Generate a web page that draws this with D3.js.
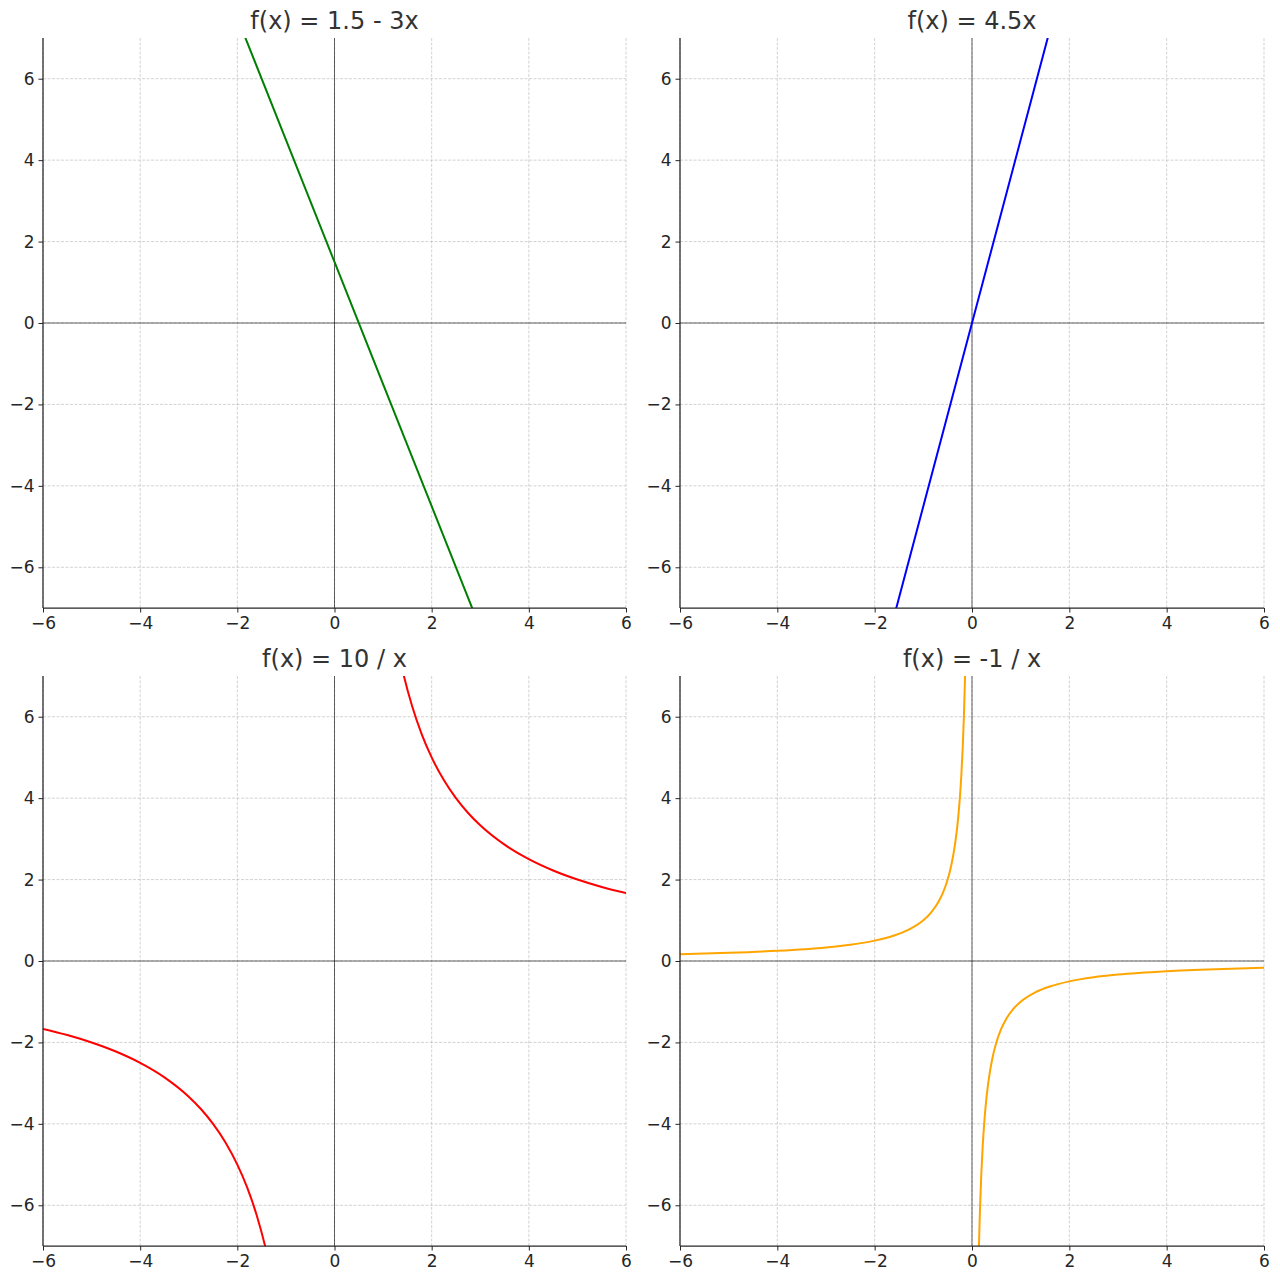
<!DOCTYPE html>
<html><head><meta charset="utf-8">
<script src="https://cdn.jsdelivr.net/npm/d3@7"></script>
<style>body{margin:0;background:#fff}svg{display:block}</style>
</head><body>
<script>
// ---- data ----
const titles = ["f(x) = 1.5 - 3x", "f(x) = 4.5x", "f(x) = 10 / x", "f(x) = -1 / x"];
const colors = ["green", "blue", "red", "orange"];
const xTicks = [-6, -4, -2, 0, 2, 4, 6];
const yTicks = [-6, -4, -2, 0, 2, 4, 6];
// curve samples (x, y); each inner array is a continuous branch
const line1 = [[[-6, 19.5], [-2, 7.5], [0, 1.5], [2, -4.5], [3, -7.5], [6, -16.5]]];
const line2 = [[[-6, -27], [-1.5556, -7], [0, 0], [1.5556, 7], [6, 27]]];
const hyp10 = [
  [[-6, -1.667], [-5.5, -1.818], [-5, -2], [-4.5, -2.222], [-4, -2.5], [-3.5, -2.857], [-3, -3.333], [-2.75, -3.636], [-2.5, -4], [-2.25, -4.444], [-2, -5], [-1.8, -5.556], [-1.6, -6.25], [-1.4, -7.143], [-1.2, -8.333]],
  [[1.2, 8.333], [1.4, 7.143], [1.6, 6.25], [1.8, 5.556], [2, 5], [2.25, 4.444], [2.5, 4], [2.75, 3.636], [3, 3.333], [3.5, 2.857], [4, 2.5], [4.5, 2.222], [5, 2], [5.5, 1.818], [6, 1.667]]
];
const hypNeg1 = [
  [[-6, 0.1667], [-5, 0.2], [-4, 0.25], [-3, 0.3333], [-2.5, 0.4], [-2, 0.5], [-1.6, 0.625], [-1.3, 0.769], [-1, 1], [-0.85, 1.176], [-0.7, 1.429], [-0.6, 1.667], [-0.5, 2], [-0.42, 2.381], [-0.35, 2.857], [-0.3, 3.333], [-0.26, 3.846], [-0.22, 4.545], [-0.19, 5.263], [-0.165, 6.061], [-0.145, 6.897], [-0.125, 8]],
  [[0.125, -8], [0.145, -6.897], [0.165, -6.061], [0.19, -5.263], [0.22, -4.545], [0.26, -3.846], [0.3, -3.333], [0.35, -2.857], [0.42, -2.381], [0.5, -2], [0.6, -1.667], [0.7, -1.429], [0.85, -1.176], [1, -1], [1.3, -0.769], [1.6, -0.625], [2, -0.5], [2.5, -0.4], [3, -0.3333], [4, -0.25], [5, -0.2], [6, -0.1667]]
];
const series = [line1, line2, hyp10, hypNeg1];

// ---- layout ----
const W = 1280, H = 1280;
const panels = [
  {x0: 43, x1: 626, y0: 38, y1: 608},
  {x0: 680, x1: 1264, y0: 38, y1: 608},
  {x0: 43, x1: 626, y0: 676, y1: 1246},
  {x0: 680, x1: 1264, y0: 676, y1: 1246}
];
const svg = d3.select("body").append("svg").attr("width", W).attr("height", H)
  .style("font-family", "DejaVu Sans, sans-serif");

panels.forEach((p, i) => {
  const x = d3.scaleLinear().domain([-6, 6]).range([p.x0, p.x1]);
  const y = d3.scaleLinear().domain([-7, 7]).range([p.y1, p.y0]);
  const g = svg.append("g");
  const cid = "clip" + i;
  svg.append("clipPath").attr("id", cid).append("rect")
    .attr("x", p.x0).attr("y", p.y0).attr("width", p.x1 - p.x0).attr("height", p.y1 - p.y0);

  // grid
  g.append("g").selectAll("line").data(xTicks).join("line")
    .attr("x1", d => x(d)).attr("x2", d => x(d)).attr("y1", p.y0).attr("y2", p.y1)
    .attr("stroke", "#b0b0b0").attr("stroke-opacity", 0.7).attr("stroke-width", 0.8).attr("stroke-dasharray", "3,1.5");
  g.append("g").selectAll("line").data(yTicks).join("line")
    .attr("y1", d => y(d)).attr("y2", d => y(d)).attr("x1", p.x0).attr("x2", p.x1)
    .attr("stroke", "#b0b0b0").attr("stroke-opacity", 0.7).attr("stroke-width", 0.8).attr("stroke-dasharray", "3,1.5");

  // zero lines
  g.append("line").attr("x1", p.x0).attr("x2", p.x1).attr("y1", y(0)).attr("y2", y(0))
    .attr("stroke", "#000").attr("stroke-width", 0.8).attr("stroke-opacity", 0.75);
  g.append("line").attr("x1", x(0)).attr("x2", x(0)).attr("y1", p.y0).attr("y2", p.y1)
    .attr("stroke", "#000").attr("stroke-width", 0.8).attr("stroke-opacity", 0.75);

  // curves
  const lineGen = d3.line().x(d => x(d[0])).y(d => y(d[1])).curve(d3.curveMonotoneX);
  g.append("g").attr("clip-path", `url(#${cid})`).selectAll("path").data(series[i]).join("path")
    .attr("d", lineGen).attr("fill", "none").attr("stroke", colors[i]).attr("stroke-width", 2);

  // axes
  const fmt = d => d < 0 ? "\u2212" + Math.abs(d) : String(d);
  const xa = g.append("g").attr("transform", `translate(0,${p.y1})`)
    .call(d3.axisBottom(x).tickValues(xTicks).tickSize(4.5).tickPadding(4).tickFormat(fmt));
  const ya = g.append("g").attr("transform", `translate(${p.x0},0)`)
    .call(d3.axisLeft(y).tickValues(yTicks).tickSize(4.5).tickPadding(4).tickFormat(fmt));
  [xa, ya].forEach(a => {
    a.select(".domain").attr("stroke", "#262626").attr("stroke-width", 1.25);
    a.selectAll(".tick line").attr("stroke", "#262626").attr("stroke-width", 1);
    a.selectAll("text").attr("font-size", 17).attr("fill", "#262626").attr("font-family", "DejaVu Sans, sans-serif");
  });
  xa.select(".domain").attr("d", `M${p.x0},0H${p.x1}`);
  ya.select(".domain").attr("d", `M0,${p.y0}V${p.y1}`);

  // title
  g.append("text").attr("x", (p.x0 + p.x1) / 2).attr("y", p.y0 - 9)
    .attr("text-anchor", "middle").attr("font-size", 24).attr("fill", "#333")
    .text(titles[i]);
});
</script>
</body></html>
